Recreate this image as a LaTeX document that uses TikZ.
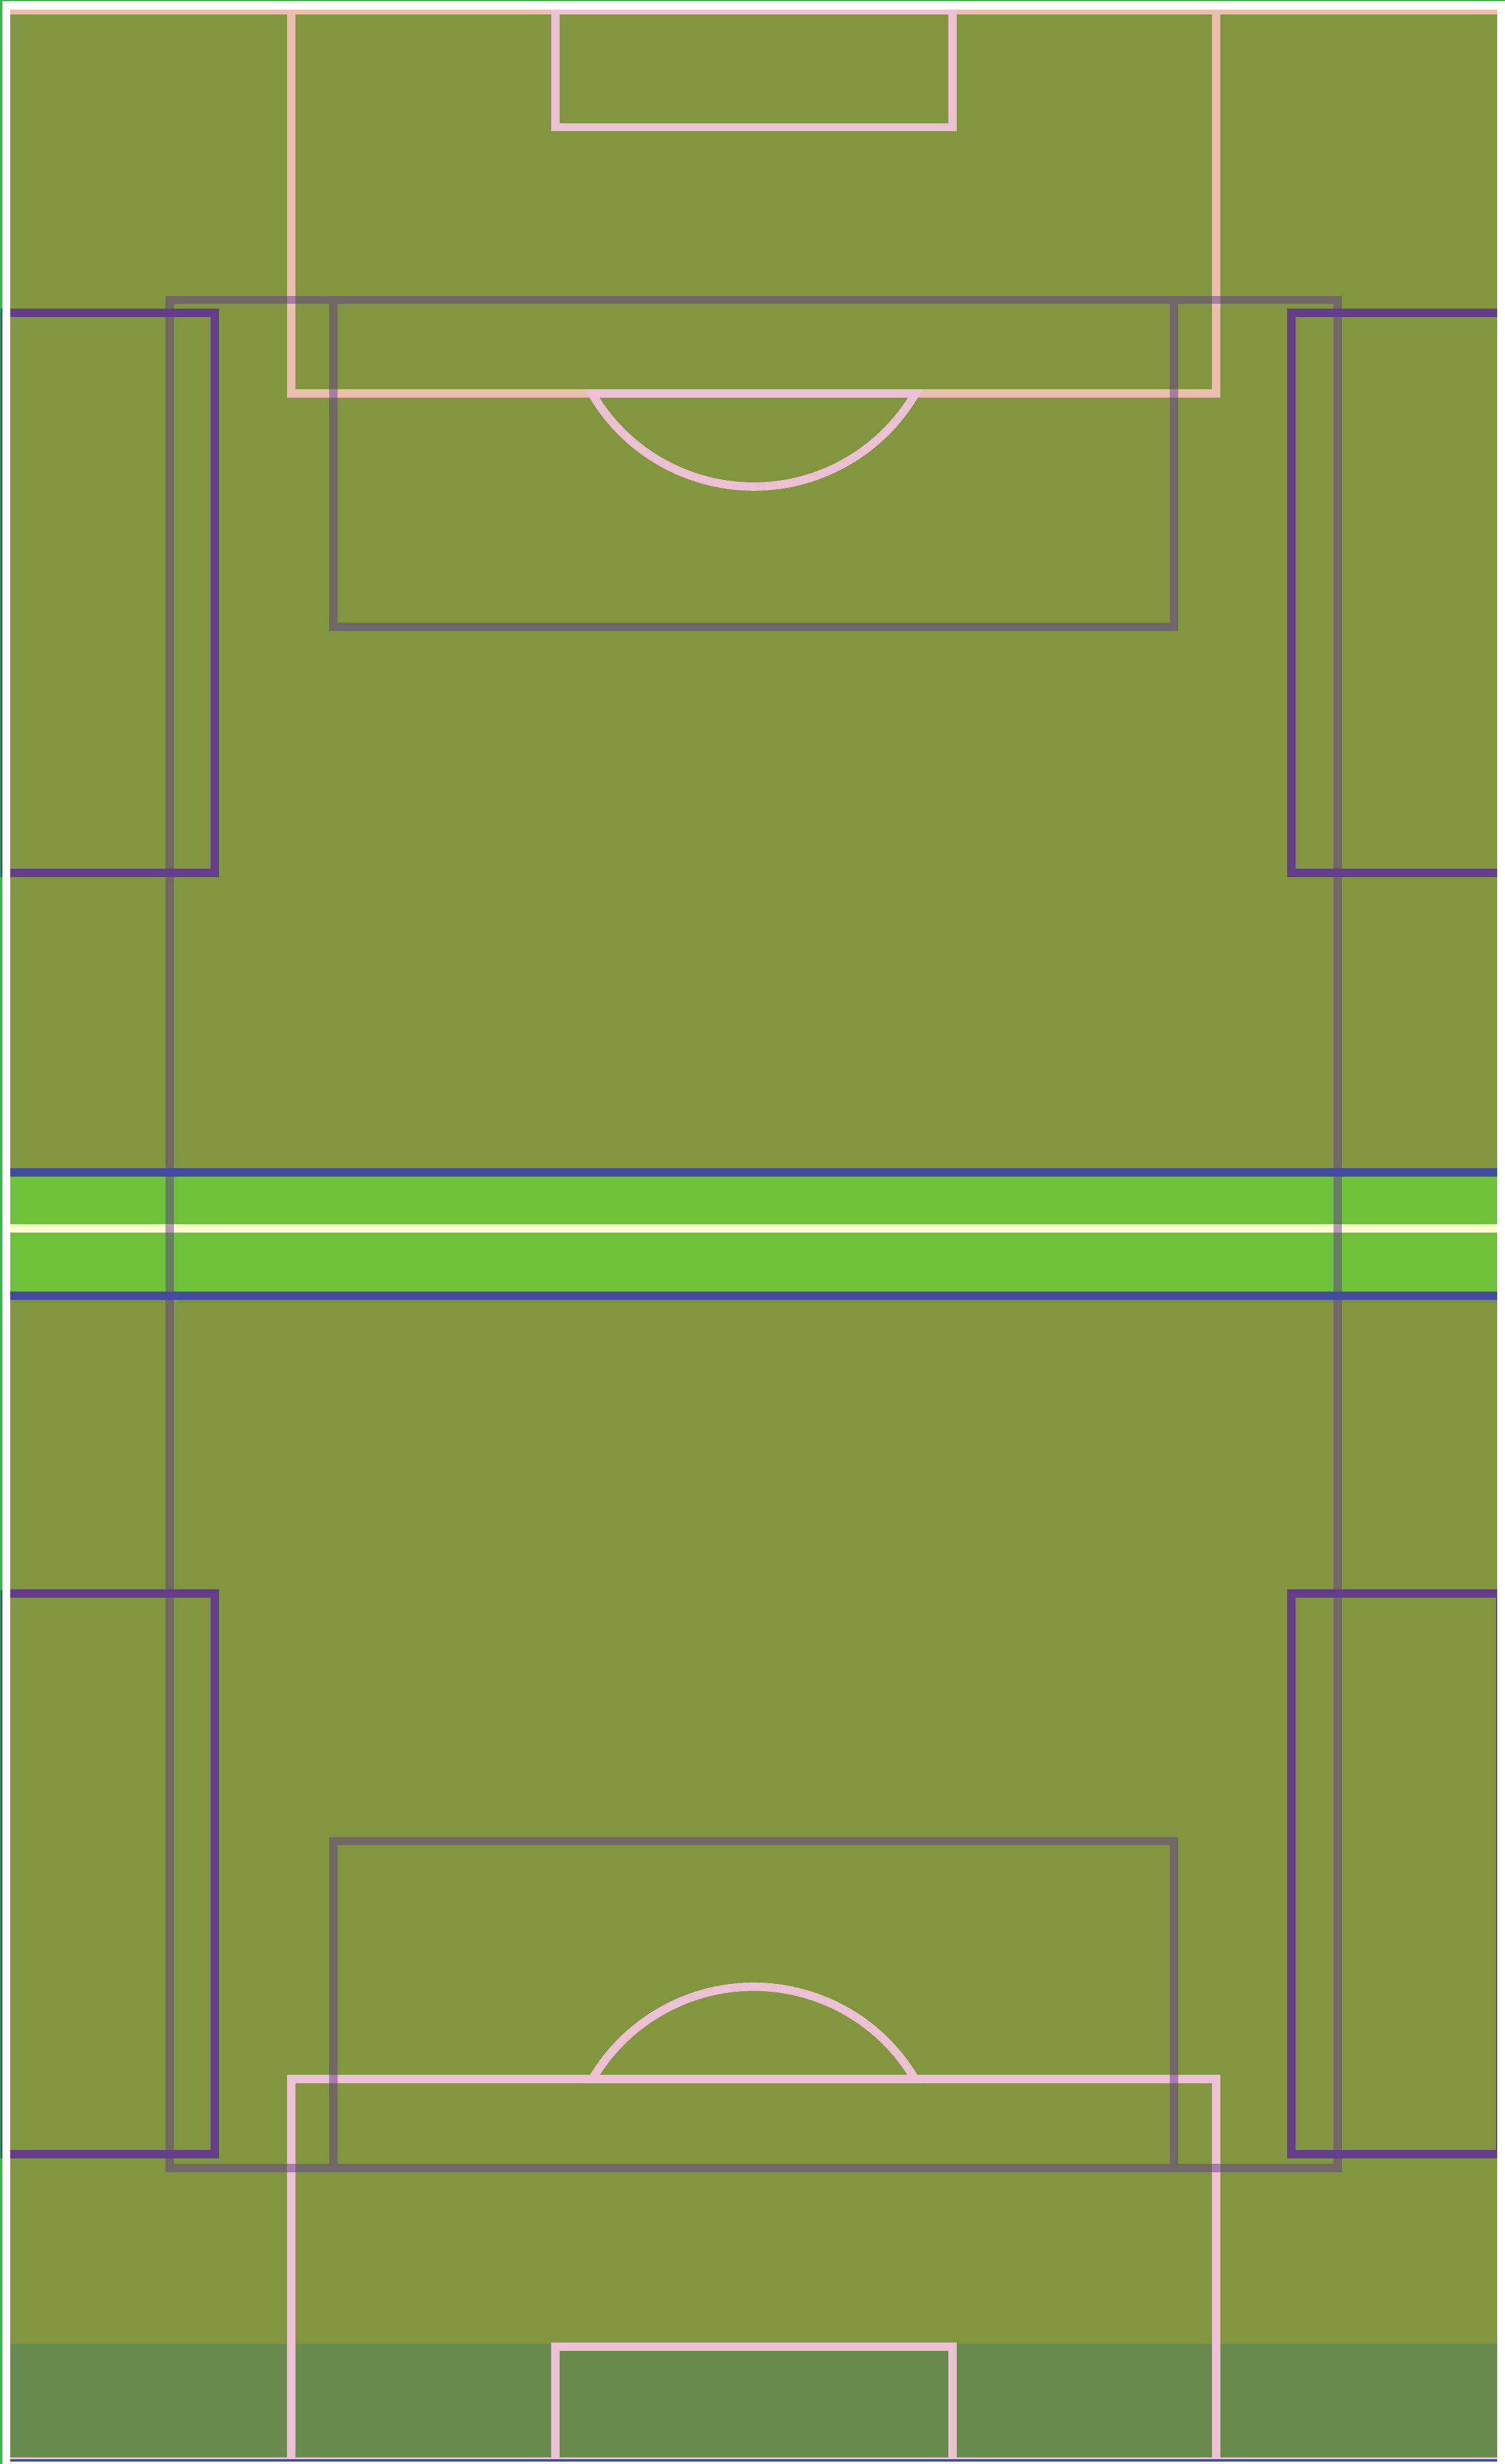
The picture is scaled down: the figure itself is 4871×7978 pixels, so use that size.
\documentclass[tikz,border=0pt]{standalone}
\definecolor{fieldolive}{RGB}{130,149,63}
\definecolor{fielddark}{RGB}{104,140,78}
\definecolor{bandgreen}{RGB}{109,193,59}
\definecolor{creamline}{RGB}{254,252,207}
\definecolor{peachline}{RGB}{235,189,173}
\definecolor{pinkline}{RGB}{235,192,210}
\definecolor{blueline}{RGB}{65,76,160}
\definecolor{purpleline}{RGB}{100,61,138}
\definecolor{greyline}{RGB}{97,56,143}
\definecolor{borderg}{RGB}{60,181,74}
\tikzset{
  peachstroke/.style={draw=peachline, line width=0.27cm},
  pinkstroke/.style={draw=pinkline, line width=0.27cm},
  greystroke/.style={draw=greyline, draw opacity=0.486, line width=0.27cm},
  purplestroke/.style={draw=purpleline, line width=0.27cm}
}
\begin{document}
\begin{tikzpicture}[x=0.01cm, y=-0.01cm]
\useasboundingbox (0,0) rectangle (4871,7978);
\fill[white] (0,0) rectangle (4871,7978);
% field
\fill[fieldolive] (33,32) rectangle (4846,7588);
\fill[fielddark] (33,7588) rectangle (4846,7962);
\fill[bandgreen] (33,3809) rectangle (4846,4182);
\fill[creamline] (33,3964) rectangle (4846,3991);
% goal lines
\fill[peachline] (33,32) rectangle (4846,46);
\fill[pinkline] (1784,32) rectangle (3096,46);
\fill[pinkline] (33,7956) rectangle (4846,7962);
% top penalty box and goal box
\draw[peachstroke] (942,39) -- (942,1274) -- (3937,1274) -- (3937,39);
\draw[pinkstroke] (1797,39) -- (1797,412) -- (3083,412) -- (3083,39);
\coordinate (spotT) at (2439.5,970);
\draw[pinkstroke] (spotT) ++(210.17:6.05cm) arc[start angle=210.17, end angle=329.83, radius=6.05cm] -- cycle;
% bottom penalty box and goal box
\draw[pinkstroke] (942,7959) -- (942,6732) -- (3937,6732) -- (3937,7959);
\draw[pinkstroke] (1797,7959) -- (1797,7598) -- (3083,7598) -- (3083,7959);
\coordinate (spotB) at (2439.5,7038);
\draw[pinkstroke] (spotB) ++(30.39:6.05cm) arc[start angle=30.39, end angle=149.61, radius=6.05cm] -- cycle;
% grey translucent rectangles (one path)
\draw[greystroke] (549,971) rectangle (4330,7019)
  (1079,971) rectangle (3800,2029)
  (1079,5961) rectangle (3800,7019);
% blue lines
\fill[blueline] (33,3783) rectangle (4846,3809);
\fill[blueline] (33,4182) rectangle (4846,4209);
\fill[blueline] (33,7962) rectangle (4846,7971);
% outer green border
\fill[borderg] (0,0) rectangle (4871,3);
\fill[borderg] (0,0) rectangle (7,7978);
% purple boxes
\draw[purplestroke] (33,1012) -- (695,1012) -- (695,2827) -- (33,2827);
\draw[purplestroke] (33,5160) -- (695,5160) -- (695,6975) -- (33,6975);
\draw[purplestroke] (4846,1012) -- (4179,1012) -- (4179,2827) -- (4846,2827);
\draw[purplestroke] (4846,5160) -- (4179,5160) -- (4179,6975) -- (4846,6975);
\fill[purpleline] (4842,5147) rectangle (4846,6988);
% blue strips at the left edge beside the purple boxes
\fill[blueline] (2,999) rectangle (7,2840);
\fill[blueline] (2,5147) rectangle (7,6988);
\end{tikzpicture}
\end{document}
